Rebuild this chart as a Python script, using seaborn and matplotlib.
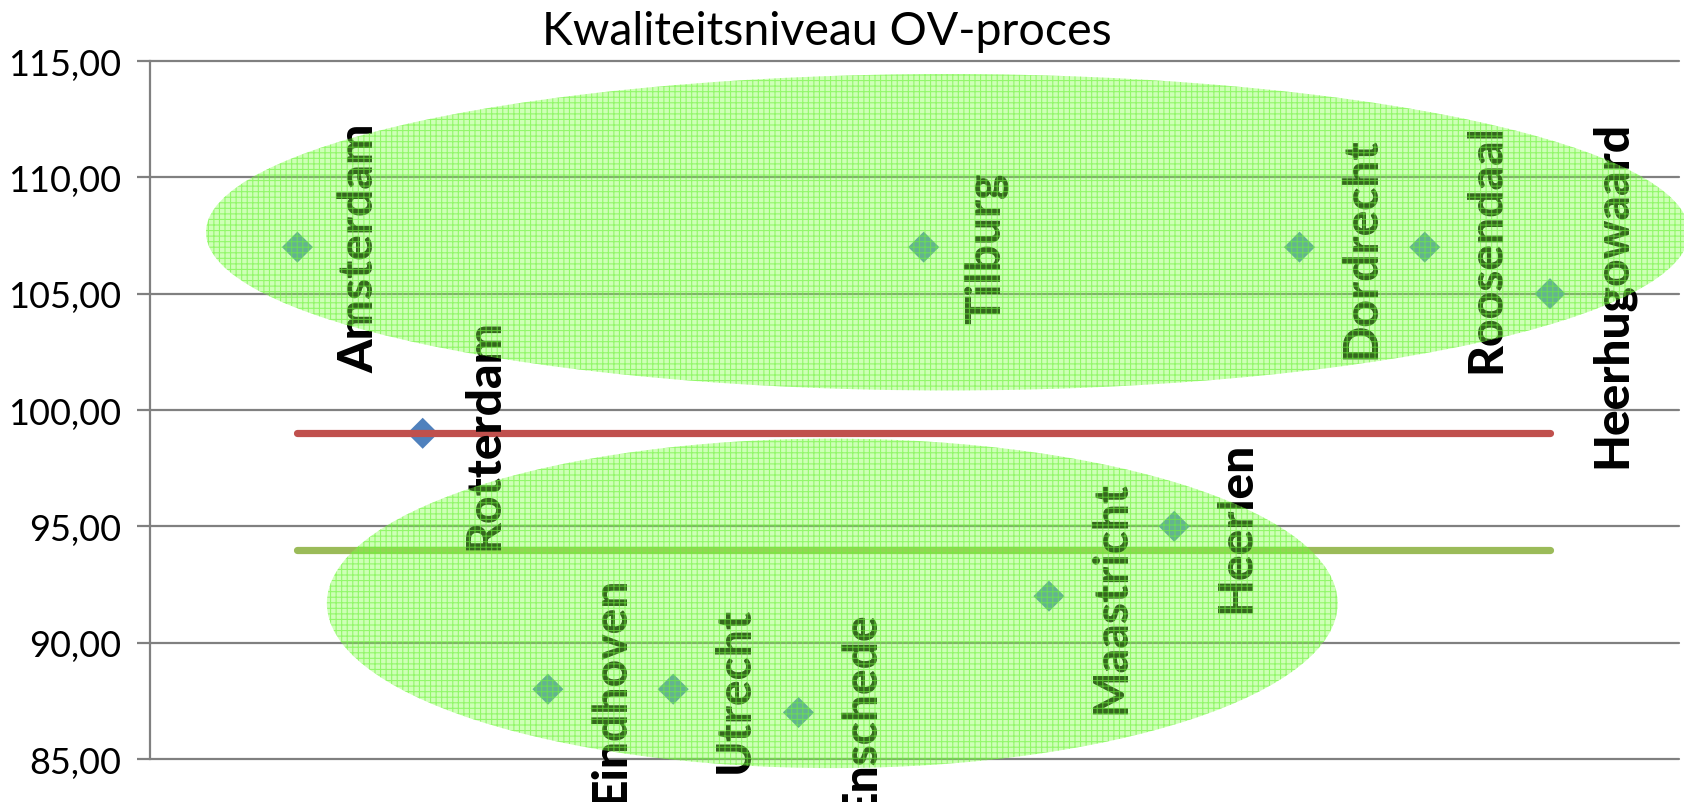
import matplotlib
matplotlib.use("Agg")
import matplotlib.pyplot as plt
from matplotlib.patches import Ellipse
import seaborn as sns
import pandas as pd

# ---- data ----
cities = ["Amsterdam", "Rotterdam", "Eindhoven", "Utrecht", "Enschede", "Tilburg",
          "Maastricht", "Heerlen", "Dordrecht", "Roosendaal", "Heerhugowaard"]
positions = [1, 2, 3, 4, 5, 6, 7, 8, 9, 10, 11]
scores = [107, 99, 88, 88, 87, 107, 92, 95, 107, 107, 105]
norm_red = [99, 99, 99, 99, 99, 99, 99, 99, 99, 99, 99]
norm_green = [94, 94, 94, 94, 94, 94, 94, 94, 94, 94, 94]
y_ticks = [85, 90, 95, 100, 105, 110, 115]
y_tick_labels = ["85,00", "90,00", "95,00", "100,00", "105,00", "110,00", "115,00"]
title = "Kwaliteitsniveau OV-proces"

df = pd.DataFrame({"pos": positions, "city": cities, "score": scores,
                   "red": norm_red, "green": norm_green})

sns.set_theme(style="white")
plt.rcParams["font.family"] = ["Lato", "DejaVu Sans"]
plt.rcParams["hatch.linewidth"] = 0.8

W, H = 1684, 803
fig = plt.figure(figsize=(W / 100, H / 100), dpi=100)
ax = fig.add_axes([150 / W, 1 - 760 / H, (1679 - 150) / W, (760 - 62) / H])

grid_col = "#808080"

# points
sns.scatterplot(data=df, x="pos", y="score", ax=ax, marker="D", s=250,
                color="#4F81BD", edgecolor="none", zorder=3, legend=False)
# norm lines
sns.lineplot(data=df, x="pos", y="red", ax=ax, color="#C0504D", linewidth=5.2,
             solid_capstyle="round", zorder=4, legend=False)
sns.lineplot(data=df, x="pos", y="green", ax=ax, color="#9BBB59", linewidth=5.2,
             solid_capstyle="round", zorder=4, legend=False)

# data labels
for xp, yv, name in zip(df["pos"], df["score"], df["city"]):
    ax.annotate(name, (xp, yv), xytext=(44.6, 0), textcoords="offset points",
                rotation=90, ha="center", va="center", fontsize=34.5,
                fontweight="black", color="black", zorder=4.5,
                annotation_clip=False)

# highlight ellipses
fill_col = (0.52, 1.0, 0.30, 0.40)
hatch_col = (0.42, 0.95, 0.22, 0.60)
for (cx, cy, w, h) in [(6.19, 107.64, 11.84, 13.6), (5.27, 91.69, 8.07, 14.16)]:
    e1 = Ellipse((cx, cy), w, h, facecolor=fill_col, edgecolor="none",
                 linewidth=0, zorder=5, clip_on=False)
    ax.add_patch(e1)
    e2 = Ellipse((cx, cy), w, h, facecolor="none", edgecolor=hatch_col,
                 linewidth=0, hatch="+++", zorder=5.1, clip_on=False)
    ax.add_patch(e2)

ax.set_xlim(-0.177, 12.03)
ax.set_ylim(85, 115)
ax.set_xticks([])
ax.set_yticks(y_ticks)
ax.set_yticklabels(y_tick_labels, fontsize=26, color="black")
ax.tick_params(axis="y", which="major", length=9.4, width=1.6, color=grid_col,
               pad=11, left=True)
ax.set_xlabel("")
ax.set_ylabel("")

ax.yaxis.grid(True, color=grid_col, linewidth=1.6)
ax.xaxis.grid(False)
for gl in ax.get_ygridlines():
    gl.set_clip_on(False)
ax.set_axisbelow(True)

for s in ["top", "right", "bottom"]:
    ax.spines[s].set_visible(False)
ax.spines["left"].set_color(grid_col)
ax.spines["left"].set_linewidth(1.6)

fig.text(827 / W, 1 - 32 / H, title, ha="center", va="center", fontsize=33.5,
         color="black")

fig.savefig("out.png", dpi=100, facecolor="white")
